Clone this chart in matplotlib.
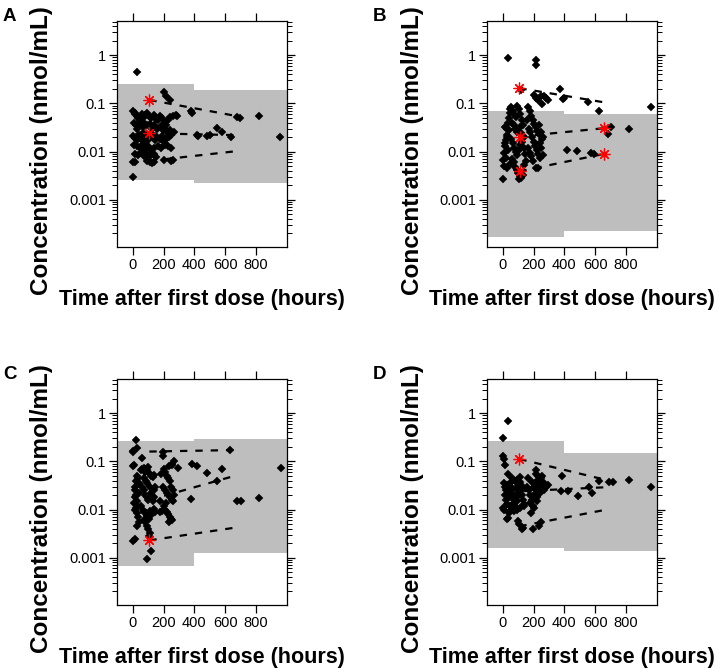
import matplotlib
matplotlib.use('Agg')
import matplotlib.pyplot as plt
import numpy as np
from matplotlib.ticker import FixedLocator, LogLocator, NullFormatter

plt.rcParams['font.family'] = ['Liberation Sans', 'DejaVu Sans']

# ---------------- data (hours, nmol/mL) ----------------
time_A = [2, 30, 205, 215, 242, 375, 385, 415, 425, 484, 500, 549, 577, 635, 679, 696, 819, 955,
          5, 12, 18, 25, 35, 45, 60, 70, 80, 95, 105, 120, 135, 150, 165, 175, 190, 200, 215, 230, 245, 260, 280, 290,
          8, 20, 30, 50, 65, 75, 90, 110, 125, 140, 160, 180, 195, 210, 225, 240, 255, 265,
          5, 12, 20, 28, 40, 55, 65, 75, 85, 95, 115, 130, 145, 160, 175, 190, 205, 220, 235, 250,
          10, 25, 45, 60, 80, 100, 120, 140, 165, 185, 210, 230, 250,
          15, 35, 55, 70, 95, 115, 135, 150,
          5, 18, 90, 115, 125, 140, 200, 250, 262]
conc_A = [0.0029, 0.45, 0.17, 0.14, 0.12, 0.07, 0.062, 0.022, 0.021, 0.021, 0.022, 0.031, 0.025, 0.0205, 0.052, 0.049, 0.056, 0.0205,
          0.068, 0.062, 0.06, 0.055, 0.05, 0.045, 0.06, 0.052, 0.058, 0.062, 0.055, 0.05, 0.058, 0.048, 0.045, 0.055, 0.05, 0.04, 0.035, 0.045, 0.052, 0.055, 0.058, 0.055,
          0.04, 0.035, 0.03, 0.038, 0.032, 0.04, 0.035, 0.038, 0.03, 0.035, 0.03, 0.033, 0.028, 0.03, 0.025, 0.028, 0.024, 0.026,
          0.021, 0.019, 0.02, 0.017, 0.022, 0.018, 0.024, 0.02, 0.016, 0.022, 0.019, 0.021, 0.017, 0.02, 0.018, 0.021, 0.016, 0.019, 0.02, 0.022,
          0.014, 0.013, 0.012, 0.014, 0.011, 0.013, 0.011, 0.012, 0.013, 0.012, 0.014, 0.013, 0.012,
          0.009, 0.0085, 0.0095, 0.008, 0.009, 0.008, 0.0088, 0.0078,
          0.0062, 0.0062, 0.0065, 0.006, 0.0058, 0.006, 0.0067, 0.0065, 0.0066]

time_B = [32, 214, 214, 119, 374, 200, 215, 230, 250, 265, 280, 295, 389, 400, 551, 627, 962, 822, 703, 681, 417, 480, 573, 595, 255,
          5, 10, 15, 20, 25, 30, 35, 40, 8, 22, 35, 12, 28, 38, 18, 45, 50, 2, 30, 45,
          55, 65, 75, 85, 95, 105, 115, 125, 60, 70, 80, 90, 100, 110, 120, 130, 140, 55, 65, 75, 85, 95, 105, 115, 125, 135, 145,
          60, 70, 80, 90, 100, 110, 120, 105, 130, 140, 150,
          165, 175, 185, 195, 205, 215, 225, 240, 255, 170, 180, 190, 200, 210, 220, 230, 245, 260, 165, 175, 185, 195, 215, 230,
          250, 240, 160, 235, 250, 260]
conc_B = [0.87, 0.78, 0.62, 0.19, 0.2, 0.15, 0.13, 0.12, 0.14, 0.14, 0.13, 0.12, 0.125, 0.13, 0.106, 0.07, 0.086, 0.029, 0.033, 0.023, 0.011, 0.0104, 0.0093, 0.0089, 0.095,
          0.0068, 0.0095, 0.013, 0.017, 0.022, 0.03, 0.04, 0.05, 0.005, 0.0075, 0.011, 0.015, 0.02, 0.028, 0.033, 0.062, 0.075, 0.0027, 0.0045, 0.0055,
          0.085, 0.07, 0.06, 0.052, 0.09, 0.075, 0.06, 0.045, 0.04, 0.035, 0.03, 0.025, 0.028, 0.032, 0.024, 0.036, 0.02, 0.018, 0.015, 0.012, 0.01, 0.0085, 0.011, 0.014, 0.016, 0.012, 0.009,
          0.007, 0.006, 0.0048, 0.0042, 0.0036, 0.0031, 0.0028, 0.0027, 0.0033, 0.0052, 0.0065,
          0.085, 0.07, 0.055, 0.045, 0.038, 0.032, 0.027, 0.022, 0.018, 0.03, 0.025, 0.02, 0.016, 0.013, 0.011, 0.009, 0.0075, 0.0085, 0.012, 0.0095, 0.008, 0.0065, 0.0045, 0.0045,
          0.012, 0.015, 0.045, 0.035, 0.026, 0.02]

time_C = [19, 30, 0, 5, 58, 199, 195, 253, 270, 296, 387, 415, 484, 577, 631, 962, 378, 675, 700, 819, 549, 0, 15, 91, 117,
          5, 10, 15, 20, 25, 30, 8, 12, 18, 22, 28, 35, 40, 15, 25, 35, 40, 30, 20, 38,
          55, 62, 70, 80, 90, 100, 110, 120, 130, 140, 60, 70, 80, 90, 100, 110, 120, 130, 140, 55, 65, 75, 85, 95, 105, 115, 125, 135, 145,
          70, 80, 90, 100, 110, 105, 95, 75, 85, 95, 115, 135, 145,
          200, 210, 220, 230, 240, 250, 260, 270, 195, 210, 225, 240, 255, 200, 210, 220, 230, 240, 250, 255, 190, 215, 235, 260, 175, 180, 185, 233, 255]
conc_C = [0.28, 0.19, 0.16, 0.165, 0.117, 0.16, 0.13, 0.085, 0.1, 0.073, 0.088, 0.082, 0.057, 0.069, 0.175, 0.073, 0.0166, 0.015, 0.0153, 0.017, 0.0386, 0.0022, 0.0024, 0.00095, 0.0014,
          0.08, 0.085, 0.025, 0.02, 0.015, 0.012, 0.014, 0.018, 0.03, 0.04, 0.05, 0.045, 0.035, 0.01, 0.0085, 0.007, 0.0055, 0.0045, 0.011, 0.022,
          0.065, 0.07, 0.072, 0.06, 0.065, 0.075, 0.055, 0.05, 0.048, 0.052, 0.03, 0.025, 0.02, 0.018, 0.016, 0.02, 0.022, 0.015, 0.018, 0.012, 0.01, 0.009, 0.0085, 0.0075, 0.0065, 0.0095, 0.008, 0.0105, 0.009,
          0.006, 0.0055, 0.0045, 0.004, 0.0032, 0.0028, 0.0065, 0.045, 0.04, 0.035, 0.03, 0.025, 0.03,
          0.07, 0.06, 0.05, 0.045, 0.04, 0.03, 0.025, 0.02, 0.03, 0.025, 0.022, 0.018, 0.016, 0.012, 0.01, 0.009, 0.008, 0.007, 0.0065, 0.006, 0.0095, 0.014, 0.0055, 0.015, 0.009, 0.015, 0.055, 0.08, 0.09]

time_D = [0, 37, 5, 7, 15, 37, 32, 0, 385, 421, 378, 486, 577, 560, 627, 692, 713, 821, 962, 292, 255, 215, 97, 105, 130, 125, 195, 238, 248,
          10, 15, 20, 25, 30, 35, 40, 45, 50, 55, 60, 65, 70, 75, 80, 85, 90, 95, 100, 105, 110, 115, 120, 125, 130, 135,
          60, 80, 95, 110, 130, 20, 30, 45, 55, 65, 75, 95, 115, 140, 10, 25, 40, 12, 85, 100,
          160, 170, 180, 190, 200, 210, 220, 230, 240, 250, 260, 175, 195, 205, 215, 225, 245, 265, 185, 200, 220, 235, 250, 280, 270, 215, 230, 165, 190]
conc_D = [0.30, 0.69, 0.127, 0.113, 0.085, 0.056, 0.0067, 0.0107, 0.049, 0.024, 0.024, 0.019, 0.022, 0.029, 0.039, 0.038, 0.038, 0.041, 0.030, 0.032, 0.049, 0.065, 0.0057, 0.005, 0.0042, 0.004, 0.004, 0.0045, 0.0055,
          0.035, 0.03, 0.025, 0.033, 0.028, 0.02, 0.018, 0.022, 0.035, 0.03, 0.026, 0.02, 0.016, 0.014, 0.012, 0.011, 0.015, 0.018, 0.022, 0.028, 0.033, 0.038, 0.025, 0.02, 0.016, 0.013,
          0.045, 0.04, 0.042, 0.048, 0.03, 0.016, 0.013, 0.012, 0.01, 0.011, 0.0095, 0.01, 0.011, 0.012, 0.01, 0.0065, 0.0087, 0.02, 0.028, 0.035,
          0.03, 0.025, 0.02, 0.016, 0.03, 0.035, 0.04, 0.032, 0.028, 0.024, 0.035, 0.014, 0.012, 0.02, 0.025, 0.018, 0.022, 0.026, 0.0085, 0.011, 0.015, 0.04, 0.045, 0.03, 0.035, 0.055, 0.05, 0.045, 0.038]

# prediction interval band per time bin: [bin1, bin2]
bin_split = 400
band_lo_A = [0.00255, 0.00224]; band_hi_A = [0.254, 0.19]
band_lo_B = [0.000165, 0.000227]; band_hi_B = [0.070, 0.0616]
band_lo_C = [0.00067, 0.00123]; band_hi_C = [0.268, 0.29]
band_lo_D = [0.00156, 0.00137]; band_hi_D = [0.26, 0.153]

# observed percentiles (5th, 50th, 95th) at bin midpoints
bin_mid = [108, 660]
pct_A = [[0.0064, 0.0101], [0.024, 0.022], [0.118, 0.0557]]
pct_B = [[0.0039, 0.009], [0.0205, 0.0306], [0.207, 0.105]]
pct_C = [[0.0023, 0.0042], [0.0158, 0.050], [0.16, 0.172]]
pct_D = [[0.0045, 0.0098], [0.024, 0.029], [0.112, 0.042]]

# red asterisks: percentiles outside the interval
star_t_A = [104, 104]; star_c_A = [0.118, 0.024]
star_t_B = [104, 110, 110, 659, 659]; star_c_B = [0.207, 0.0205, 0.0039, 0.0306, 0.009]
star_t_C = [108]; star_c_C = [0.0023]
star_t_D = [104]; star_c_D = [0.112]

panel_labels = ['A', 'B', 'C', 'D']
x_ticks = [0, 200, 400, 600, 800]
y_ticks = [0.001, 0.01, 0.1, 1]
y_tick_labels = ['0.001', '0.01', '0.1', '1']

# ---------------- figure ----------------
W, H = 720, 668
fig = plt.figure(figsize=(W / 100, H / 100), dpi=100)
XLIM = (-102, 1001)
YLIM = (10 ** -3.98, 10 ** 0.71)
GRAY = '#BEBEBE'

panels = [
    dict(box=(117, 21, 287, 247), t=time_A, c=conc_A, lo=band_lo_A, hi=band_hi_A, pct=pct_A, st=star_t_A, sc=star_c_A),
    dict(box=(487, 21, 657, 247), t=time_B, c=conc_B, lo=band_lo_B, hi=band_hi_B, pct=pct_B, st=star_t_B, sc=star_c_B),
    dict(box=(117, 379, 287, 605), t=time_C, c=conc_C, lo=band_lo_C, hi=band_hi_C, pct=pct_C, st=star_t_C, sc=star_c_C),
    dict(box=(487, 379, 657, 605), t=time_D, c=conc_D, lo=band_lo_D, hi=band_hi_D, pct=pct_D, st=star_t_D, sc=star_c_D),
]

for i, p in enumerate(panels):
    l, t, r, b = p['box']
    ax = fig.add_axes([l / W, 1 - b / H, (r - l) / W, (b - t) / H])
    ax.set_yscale('log')
    ax.set_xlim(*XLIM)
    ax.set_ylim(*YLIM)
    edges = [XLIM[0], bin_split, XLIM[1]]
    for k in range(2):
        ax.fill_between([edges[k], edges[k + 1]], [p['lo'][k]] * 2, [p['hi'][k]] * 2,
                        color=GRAY, lw=0, zorder=1)
    for line in p['pct']:
        ax.plot(bin_mid, line, color='black', lw=1.6, ls=(0, (3.3, 3.6)), zorder=2)
    ax.plot(p['t'], p['c'], ls='none', marker='D', ms=3.6, mfc='black', mec='black', mew=0.3, zorder=3)
    ax.plot(p['st'], p['sc'], ls='none', marker=(8, 2, 0), ms=8.5, mec='#FF0000', mew=0.9, zorder=4)

    ax.xaxis.set_major_locator(FixedLocator(x_ticks))
    ax.set_xticklabels([str(v) for v in x_ticks])
    ax.yaxis.set_major_locator(FixedLocator(y_ticks))
    ax.set_yticklabels(y_tick_labels)
    ax.yaxis.set_minor_locator(LogLocator(base=10, subs=np.arange(2, 10), numticks=20))
    ax.yaxis.set_minor_formatter(NullFormatter())
    ax.tick_params(axis='both', which='major', direction='out', length=6, width=0.9,
                   top=True, right=True, labeltop=False, labelright=False, labelsize=10.5, pad=2)
    ax.tick_params(axis='y', which='minor', direction='out', length=3.5, width=0.7, left=True, right=True)
    for s in ax.spines.values():
        s.set_linewidth(0.9)

    cx = (l + r) / 2
    fig.text(cx / W, 1 - (b + 53) / H, 'Time after first dose (hours)', ha='center', va='center',
             fontsize=15.5, fontweight='bold')
    fig.text((l - 75) / W, 1 - ((t + b) / 2 + 17) / H, 'Concentration (nmol/mL)', ha='center', va='center',
             rotation=90, fontsize=17.5, fontweight='bold')
    fig.text((l - 114) / W, 1 - (t - 13) / H, panel_labels[i], ha='left', va='top',
             fontsize=13.5, fontweight='bold')

fig.savefig('out.png', dpi=100)
